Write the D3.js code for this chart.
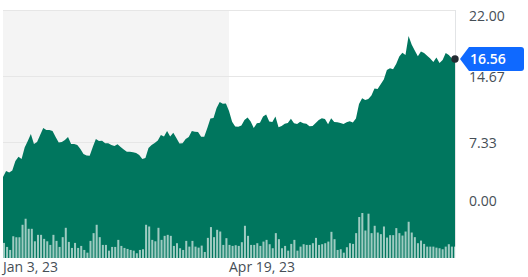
<!DOCTYPE html>
<html><head><meta charset="utf-8">
<script src="https://cdn.jsdelivr.net/npm/d3@7"></script>
<style>html,body{margin:0;padding:0;background:#fff;} svg{display:block;}</style>
</head><body><svg id="c" width="528" height="277"></svg>
<script>
const prices = [
3.44,4.11,3.94,4.17,5.22,5.70,5.44,6.72,7.44,8.22,
7.11,7.33,8.11,8.89,8.67,8.67,8.56,7.89,7.28,7.33,
7.56,7.89,7.11,7.11,7.00,6.56,6.00,5.83,5.81,6.78,
7.67,7.44,7.48,7.19,7.19,7.00,6.89,7.08,6.78,6.50,
6.26,6.26,6.20,6.11,5.89,5.44,5.56,6.67,7.00,7.22,
7.50,8.11,7.94,8.56,7.94,8.37,7.78,7.17,7.19,7.67,
7.89,8.56,8.48,8.44,7.92,7.92,8.89,9.94,10.00,11.11,
11.78,11.59,11.61,10.78,9.59,9.06,9.03,9.17,9.78,10.06,
9.61,8.89,9.41,9.48,10.17,10.39,9.61,9.56,10.17,8.97,
9.11,9.36,9.44,9.92,9.41,9.33,9.58,9.41,9.36,9.09,
9.11,9.44,9.78,9.96,9.89,9.31,9.96,9.56,9.52,9.44,
9.33,9.52,9.63,9.50,9.94,11.56,12.19,12.00,12.11,12.50,
13.28,13.22,13.76,14.28,15.33,15.52,15.41,16.00,16.83,17.24,
17.00,19.11,18.17,17.50,16.87,17.39,17.22,16.91,16.61,16.22,
16.71,16.11,16.44,17.22,17.00,16.61,16.56];

const volumes = [
15,11,8,21.6,20.6,20.6,33,39,29,29,
16.6,23,23,19,16.6,13,23,17,11,20.7,
30,16,10,15,10,12,8,5.3,17,24.7,
33,20.7,13,13,7.3,11,11,18,12,10,
9,8,7.3,4.7,8,8.7,33,31.3,18,16.6,
30,18,22,23,22,12,
14.7,9.7,8,17,11.3,17,11.3,10.3,12.3,6,
20,30.7,20.7,28,26.3,13,19.7,13,12,12.7,
12,15.7,32,22,13,13,14.7,12,16.3,18,
13.7,9.7,24.7,18.7,9.7,12,7.3,14,18,7.3,
11.3,13.7,13,13,14.7,20,13,13.7,14.7,16.3,
26,18.7,8,8.7,5.3,10.7,14.7,
14,24.7,40.7,44.7,27.3,44,24.7,32,25.3,23.7,
31.3,20.3,22.7,22.7,29.7,24.7,22.3,26.3,36,25.3,
20.7,14.7,17.3,14,11.3,11.3,11.3,10.3,9.7,8.7,
11.3,13.7,11.3,11.3];

const xTickIndex = [0, 73];
const xTickLabels = ["Jan 3, 23", "Apr 19, 23"];
const yTicks = [0, 7.33, 14.67, 22];
const shadeEndIndex = 73;
const lastPrice = 16.56;

(function () {
const svg = d3.select("#c");
const pLeft = 3, pRight = 455, pTop = 10, pBottom = 258, zeroY = 208;
const green = "#00765e";
const font = "'Open Sans', 'DejaVu Sans', sans-serif";

const x = d3.scaleLinear().domain([0, prices.length - 1]).range([pLeft, pRight]);
const y = d3.scaleLinear().domain([0, 22]).range([zeroY, pTop]);
const xb = d3.scaleBand().domain(d3.range(volumes.length)).range([pLeft, pRight + 1]).paddingInner(0.35);
const yv = d3.scaleLinear().domain([0, d3.max(volumes)]).range([pBottom, 213]);

svg.append("rect").attr("x", x(0)).attr("y", pTop)
  .attr("width", x(shadeEndIndex) - x(0)).attr("height", pBottom - pTop)
  .attr("fill", "#f4f4f4");

svg.append("g").selectAll("line").data(yTicks).join("line")
  .attr("x1", pLeft).attr("x2", pRight)
  .attr("y1", d => Math.round(y(d)) + 0.5).attr("y2", d => Math.round(y(d)) + 0.5)
  .attr("stroke", "#e6e6e6").attr("stroke-width", 1);

svg.append("line").attr("x1", pRight + 0.5).attr("x2", pRight + 0.5)
  .attr("y1", pTop).attr("y2", pBottom).attr("stroke", "#e2e4e6");

const area = d3.area().x((d, i) => x(i)).y0(pBottom).y1(d => y(d));
svg.append("path").datum(prices).attr("d", area).attr("fill", green);

svg.append("g").selectAll("rect").data(volumes).join("rect")
  .attr("x", (d, i) => xb(i)).attr("width", xb.bandwidth())
  .attr("y", d => yv(d)).attr("height", d => pBottom - yv(d))
  .attr("fill", "#ffffff").attr("fill-opacity", 0.62);

svg.append("g").selectAll("text").data(yTicks).join("text")
  .attr("x", 469)
  .attr("y", d => Math.max(16, Math.min(201, y(d) + 1)))
  .attr("dy", "0.36em")
  .attr("font-family", font).attr("font-size", 14).attr("fill", "#464e56")
  .text(d => d.toFixed(2));

svg.append("g").selectAll("text").data(xTickIndex).join("text")
  .attr("x", d => x(d)).attr("y", 272)
  .attr("font-family", font).attr("font-size", 14).attr("fill", "#464e56")
  .text((d, i) => xTickLabels[i]);

const ly = y(lastPrice);
const tx = pRight + 5;
svg.append("path")
  .attr("d", `M${tx},${ly} L${tx + 9},${ly - 12} H${524 - 3} Q524,${ly - 12} 524,${ly - 9} V${ly + 9} Q524,${ly + 12} ${524 - 3},${ly + 12} H${tx + 9} Z`)
  .attr("fill", "#0f69ff");
svg.append("circle").attr("cx", pRight).attr("cy", ly).attr("r", 3.7).attr("fill", "#232a31");
svg.append("text").attr("x", 470).attr("y", ly).attr("dy", "0.36em")
  .attr("font-family", font).attr("font-size", 14).attr("font-weight", 600)
  .attr("fill", "#fff").text(lastPrice.toFixed(2));
})();
</script></body></html>
